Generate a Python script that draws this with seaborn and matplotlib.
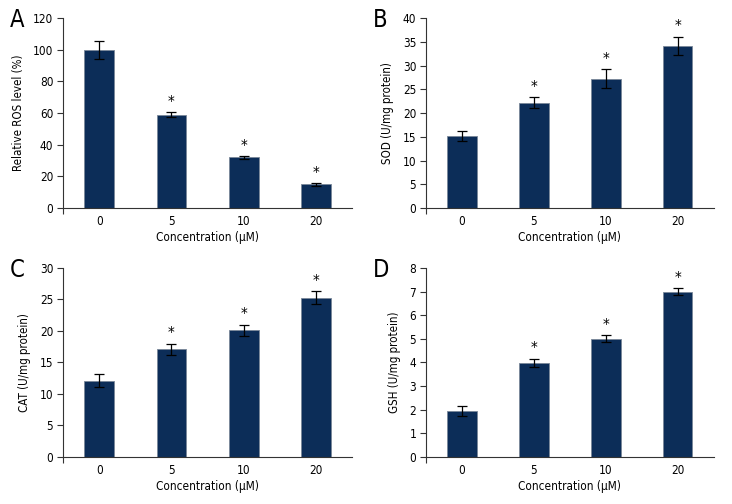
import matplotlib
matplotlib.use("Agg")
import matplotlib.pyplot as plt
import seaborn as sns
import pandas as pd

sns.set_theme(style="white")
plt.rcParams['font.family'] = ['DejaVu Sans']
plt.rcParams['font.stretch'] = 'condensed'

concentrations = ["0", "5", "10", "20"]

ros_mean = [100, 59, 32, 15]
ros_err = [5.5, 1.5, 0.8, 0.7]
sod_mean = [15.2, 22.2, 27.2, 34.2]
sod_err = [1.0, 1.1, 2.0, 1.9]
cat_mean = [12.1, 17.1, 20.1, 25.3]
cat_err = [1.0, 0.9, 0.9, 1.0]
gsh_mean = [1.95, 3.98, 5.0, 7.0]
gsh_err = [0.22, 0.18, 0.15, 0.15]

significant = [False, True, True, True]

panels = [
    ("A", ros_mean, ros_err, "Relative ROS level (%)", 120, 20, [0.0861, 0.587, 0.395, 0.377]),
    ("B", sod_mean, sod_err, "SOD (U/mg protein)", 40, 5, [0.582, 0.587, 0.393, 0.377]),
    ("C", cat_mean, cat_err, "CAT (U/mg protein)", 30, 5, [0.0861, 0.0933, 0.395, 0.375]),
    ("D", gsh_mean, gsh_err, "GSH (U/mg protein)", 8, 1, [0.582, 0.0933, 0.393, 0.375]),
]

bar_color = "#0c2d58"

fig = plt.figure(figsize=(7.32, 5.04), dpi=100)
for letter, means, errs, ylabel, ymax, ystep, rect in panels:
    ax = fig.add_axes(rect)
    df = pd.DataFrame({"Concentration": concentrations, "Value": means})
    sns.barplot(data=df, x="Concentration", y="Value", color=bar_color,
                width=0.41, edgecolor="#7a8799", linewidth=0.6, ax=ax,
                errorbar=None, saturation=1)
    ax.errorbar(range(len(means)), means, yerr=errs, fmt="none",
                ecolor="black", elinewidth=0.9, capsize=3.5, capthick=0.9)
    for i, (m, e, s) in enumerate(zip(means, errs, significant)):
        if s:
            ax.text(i, m + e + ymax * 0.012, "*", ha="center", va="bottom",
                    fontsize=11, color="black")
    ax.set_xlim(-0.5, 3.5)
    ax.set_ylim(0, ymax)
    ticks = [v * ystep for v in range(int(ymax / ystep) + 1)]
    ax.set_yticks(ticks)
    ax.set_yticklabels([str(t) for t in ticks])
    ax.set_xticks([-0.5], minor=True)
    ax.set_ylabel(ylabel, fontsize=8.3, color="black", labelpad=6)
    ax.set_xlabel("Concentration (μM)", fontsize=8.5, color="black", labelpad=2)
    ax.tick_params(axis="y", left=True, length=4, width=0.8, labelsize=8.5,
                   colors="#333333", labelcolor="black", pad=3)
    ax.tick_params(axis="x", which="major", bottom=False, length=0, labelsize=8.5,
                   colors="black", pad=5)
    ax.tick_params(axis="x", which="minor", bottom=True, length=4, width=0.8,
                   colors="#333333")
    for side in ["top", "right"]:
        ax.spines[side].set_visible(False)
    for side in ["left", "bottom"]:
        ax.spines[side].set_color("#333333")
        ax.spines[side].set_linewidth(0.8)
    ax.text(-0.185, 1.055, letter, transform=ax.transAxes, fontsize=17,
            ha="left", va="top", color="black")

fig.savefig("out.png", dpi=100)
